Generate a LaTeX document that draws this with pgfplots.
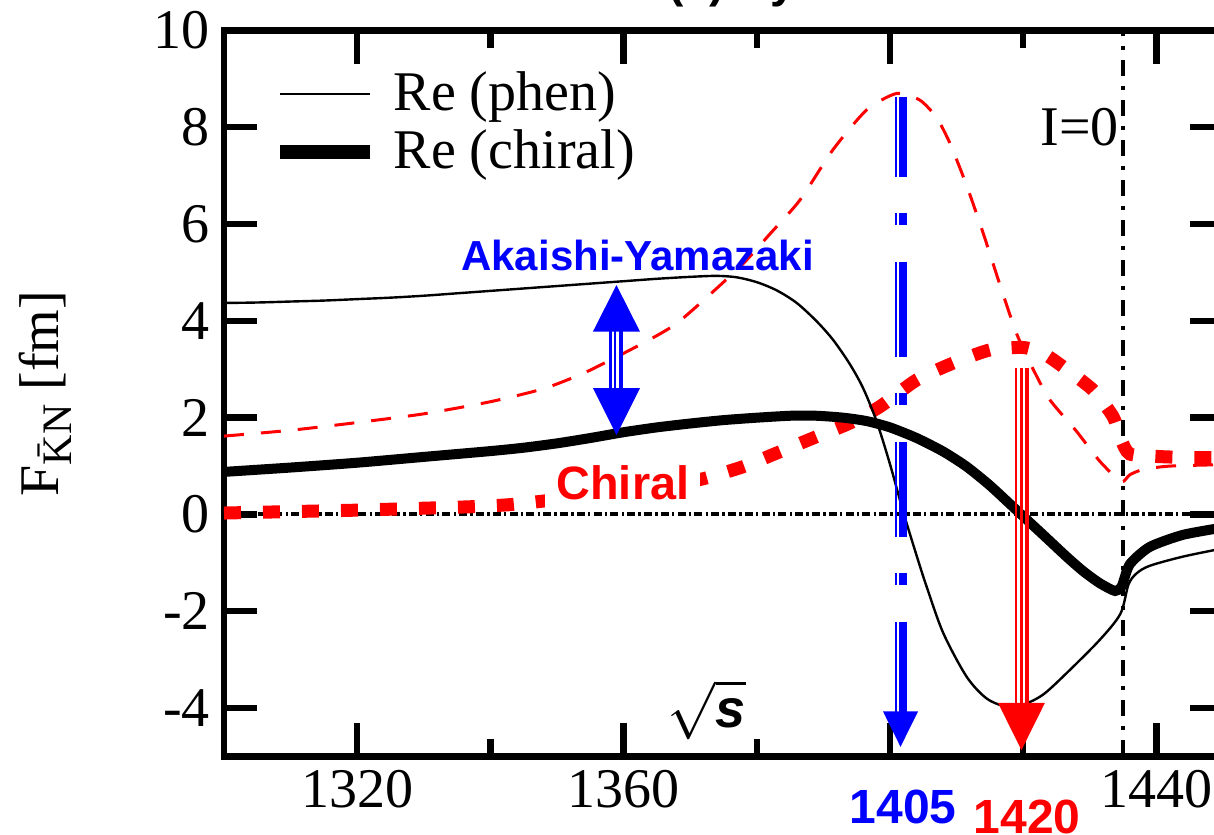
\documentclass[border=0pt]{standalone}
\usepackage{fontspec}
\setmainfont{Liberation Serif}
\setsansfont{Liberation Sans}
\usepackage{pgfplots}
\pgfplotsset{compat=1.18}
\usepackage{pgfplotstable}

\definecolor{pblue}{RGB}{0,0,255}
\definecolor{pred}{RGB}{255,0,0}

% Re F (phenomenological)
\pgfplotstableread{
x y
1300 4.37
1305 4.38
1310 4.40
1315 4.42
1320 4.45
1325 4.48
1330 4.52
1335 4.57
1340 4.62
1345 4.67
1350 4.72
1355 4.77
1360 4.82
1365 4.87
1370 4.91
1374 4.93
1377 4.90
1380 4.80
1383 4.63
1386 4.37
1389 3.99
1391.5 3.60
1394 3.10
1396 2.60
1398 1.92
1400 1.04
1402 0.05
1404 -0.85
1405.5 -1.49
1408 -2.45
1411.5 -3.35
1414.5 -3.80
1417.5 -3.97
1420 -3.93
1423 -3.72
1426.5 -3.28
1431.5 -2.59
1434.6 -2.05
1435.8 -1.45
1437 -1.22
1439 -1.06
1444 -0.87
1450 -0.70
}\phenre

% Re F (chiral)
\pgfplotstableread{
x y
1300 0.88
1310 0.97
1320 1.07
1330 1.19
1340 1.31
1345 1.38
1350 1.47
1355 1.58
1360 1.70
1365 1.80
1370 1.88
1375 1.95
1380 2.00
1385 2.04
1389 2.04
1393 2.00
1396.5 1.93
1400 1.80
1404 1.58
1408 1.30
1411.5 0.99
1415 0.60
1419 0.09
1423 -0.42
1426.5 -0.87
1429 -1.17
1431.5 -1.42
1433.8 -1.58
1434.8 -1.48
1436 -1.03
1439 -0.67
1444 -0.42
1450 -0.27
}\chire

% Im F (phenomenological)
\pgfplotstableread{
x y
1300 1.62
1310 1.74
1320 1.90
1330 2.08
1340 2.33
1348 2.60
1354 2.92
1359 3.26
1364 3.62
1368 3.95
1373 4.55
1378 5.19
1382 5.80
1386.5 6.50
1391.4 7.53
1396.5 8.36
1401 8.70
1404.5 8.56
1407 8.20
1409 7.67
1411.5 6.80
1414 5.81
1416.5 4.75
1419 3.74
1421.5 3.00
1424 2.37
1428 1.72
1431.5 1.10
1434.7 0.68
1436 0.82
1438 0.93
1442 1.00
1450 1.03
}\phenim

% Im F (chiral)
\pgfplotstableread{
x y
1300 0.03
1310 0.06
1320 0.09
1330 0.13
1337 0.16
1342.6 0.20
1347.5 0.27
1355 0.40
1362 0.53
1368 0.64
1372 0.74
1378 0.99
1383 1.27
1389 1.61
1394 1.89
1398.5 2.23
1404 2.78
1409.5 3.13
1415 3.40
1420 3.45
1423 3.33
1426 3.05
1430.5 2.57
1433.5 2.02
1434.7 1.55
1436 1.25
1440 1.20
1444 1.18
1450 1.17
}\chiim

\begin{document}
\begin{tikzpicture}
\begin{axis}[
  at={(0,0)}, anchor=south west,
  scale only axis, width=249.75pt, height=181.5pt,
  xmin=1300, xmax=1450, ymin=-5, ymax=10,
  xtick={1320,1360,1400,1440}, xticklabels={1320,1360,{},1440},
  minor xtick={1340,1380,1420},
  ytick={-4,-2,0,2,4,6,8,10},
  tick align=inside,
  major tick length=8.25pt, minor tick length=4.25pt,
  axis line style={line width=1.6pt},
  tick style={black, line width=1.6pt},
  tick label style={font=\fontsize{14}{16}\selectfont},
  /pgf/number format/assume math mode=true,
  clip mode=individual,
  ylabel={F\raisebox{-3.3pt}{\fontsize{10.5}{12}\selectfont\={K}N}\hspace{0.25em}[fm]},
  ylabel style={at={(axis description cs:-0.179,0.5)}, anchor=center, font=\fontsize{14}{16}\selectfont},
  legend cell align=left,
  legend style={draw=none, fill=none, at={(axis description cs:0.048,0.8727)}, anchor=west,
    font=\fontsize{14}{16}\selectfont, row sep=3.25pt, column sep=4.25pt, inner sep=0pt,
    nodes={inner sep=0pt}},
  legend image code/.code={\draw[#1] (0pt,0pt) -- (22.5pt,0pt);},
]
\addlegendimage{black, line width=0.6pt}
\addlegendentry{Re (phen)}
\addlegendimage{black, line width=3.5pt}
\addlegendentry{Re (chiral)}

% zero line and threshold
\addplot[forget plot, black, line width=1pt, dash pattern=on 2pt off 0.8pt on 0.6pt off 0.8pt] coordinates {(1300,0) (1450,0)};
\addplot[forget plot, black, line width=1pt, dash pattern=on 4pt off 2.5pt on 1pt off 2.5pt] coordinates {(1435,-5) (1435,10)};

% imaginary parts
\addplot[forget plot, pred, line width=0.75pt, dash pattern=on 5pt off 4.25pt, smooth, tension=0.4] table {\phenim};
\addplot[forget plot, pred, line width=3.25pt, dash pattern=on 4.25pt off 5.5pt, smooth, tension=0.4] table {\chiim};

% real parts
\addplot[forget plot, black, line width=0.6pt, smooth, tension=0.5] table {\phenre};
\addplot[forget plot, black, line width=2.5pt, smooth, tension=0.4] table {\chire};

% Akaishi-Yamazaki vs chiral arrow
\draw[pblue, line width=0.55pt] ([xshift=-1.5pt]axis cs:1358.93,3.8) -- ([xshift=-1.5pt]axis cs:1358.93,2.6);
\draw[pblue, line width=0.6pt] ([xshift=-0.35pt]axis cs:1358.93,3.8) -- ([xshift=-0.35pt]axis cs:1358.93,2.6);
\draw[pblue, line width=0.9pt] ([xshift=1.1pt]axis cs:1358.93,3.8) -- ([xshift=1.1pt]axis cs:1358.93,2.6);
\fill[pblue] ([xshift=-5.875pt]axis cs:1358.93,3.78) -- ([xshift=5.875pt]axis cs:1358.93,3.78) -- (axis cs:1358.93,4.74) -- cycle;
\fill[pblue] ([xshift=-5.875pt]axis cs:1358.93,2.61) -- ([xshift=5.875pt]axis cs:1358.93,2.61) -- (axis cs:1358.93,1.64) -- cycle;

% pole position 1405
\draw[pblue, line width=0.5pt, dash pattern=on 23.75pt off 9pt on 3pt off 9.25pt, dash phase=3.75pt]
  ([xshift=-1.125pt]axis cs:1401.58,8.63) -- ([xshift=-1.125pt]axis cs:1401.58,-4.08);
\draw[pblue, line width=2pt, dash pattern=on 23.75pt off 9pt on 3pt off 9.25pt, dash phase=3.75pt]
  ([xshift=0.625pt]axis cs:1401.58,8.63) -- ([xshift=0.625pt]axis cs:1401.58,-4.08);
\fill[pblue] ([xshift=-4.375pt]axis cs:1401.58,-4.07) -- ([xshift=4.375pt]axis cs:1401.58,-4.07) -- (axis cs:1401.58,-4.80) -- cycle;

% pole position 1420
\draw[pred, line width=0.5pt] ([xshift=-1.375pt]axis cs:1419.74,3.03) -- ([xshift=-1.375pt]axis cs:1419.74,-3.9);
\draw[pred, line width=0.6pt] (axis cs:1419.74,3.03) -- (axis cs:1419.74,-3.9);
\draw[pred, line width=0.9pt] ([xshift=1.375pt]axis cs:1419.74,3.03) -- ([xshift=1.375pt]axis cs:1419.74,-3.9);
\fill[pred] ([xshift=-5.875pt]axis cs:1419.74,-3.89) -- ([xshift=5.875pt]axis cs:1419.74,-3.89) -- (axis cs:1419.74,-4.87) -- cycle;

% labels
\node[font=\sffamily\bfseries\fontsize{10.5}{12}\selectfont, text=pblue, anchor=base] at (axis cs:1362.1,5.05) {Akaishi-Yamazaki};
\node[font=\sffamily\bfseries\fontsize{11.7}{13}\selectfont, text=pred, fill=white, inner sep=2.8pt, anchor=base] at (axis cs:1359.9,0.30) {Chiral};
\node[font=\sffamily\bfseries\fontsize{12}{14}\selectfont, text=pblue] at (axis cs:1402.0,-6.05) {1405};
\node[font=\sffamily\bfseries\fontsize{12}{14}\selectfont, text=pred] at (axis cs:1420.6,-6.24) {1420};
\node[font=\fontsize{13.5}{15}\selectfont] at (axis cs:1372.5,-4.04) {$\sqrt{\mbox{\sffamily\bfseries\itshape s}}$};
\node[font=\fontsize{14}{16}\selectfont, anchor=base east, inner sep=0pt] at (axis cs:1434.5,7.63) {I=0};
\end{axis}
\node[anchor=base west, inner sep=0pt, font=\sffamily\bfseries\fontsize{11.5}{13}\selectfont] at (111pt,189.8pt) {(a) Hyodo};
\pgfresetboundingbox
\useasboundingbox (-56pt,-19.625pt) rectangle (247.5pt,189.125pt);
\end{tikzpicture}
\end{document}
